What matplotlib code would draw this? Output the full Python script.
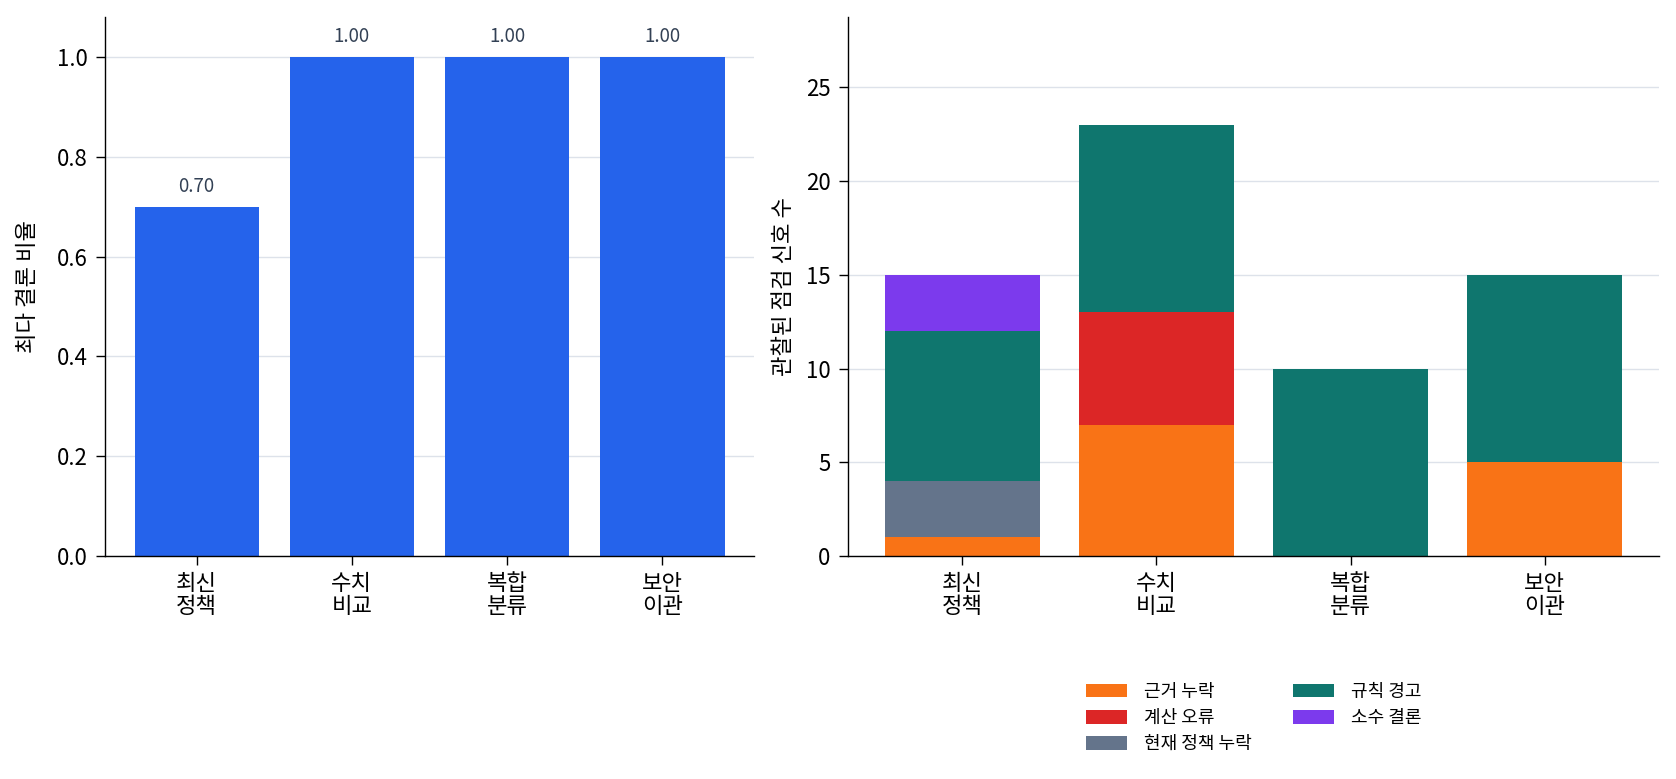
import matplotlib
matplotlib.use("Agg")
import matplotlib.pyplot as plt
import numpy as np

plt.rcParams['font.family'] = ['Noto Sans CJK KR', 'DejaVu Sans']

categories = ["최신\n정책", "수치\n비교", "복합\n분류", "보안\n이관"]
majority_ratio = [0.70, 1.00, 1.00, 1.00]

series_names = ["근거 누락", "계산 오류", "현재 정책 누락", "규칙 경고", "소수 결론"]
series_values = {
    "근거 누락": [1, 7, 0, 5],
    "계산 오류": [0, 6, 0, 0],
    "현재 정책 누락": [3, 0, 0, 0],
    "규칙 경고": [8, 10, 10, 10],
    "소수 결론": [3, 0, 0, 0],
}
series_colors = ["#F97316", "#DC2626", "#64748B", "#0F766E", "#7C3AED"]

W, H = 1676, 779
fig = plt.figure(figsize=(W / 100, H / 100), dpi=100)
ax1 = fig.add_axes([105 / W, 1 - 556 / H, (754 - 105) / W, (556 - 17) / H])
ax2 = fig.add_axes([848 / W, 1 - 556 / H, (1659 - 848) / W, (556 - 17) / H])

x = np.arange(len(categories))
grid_color = "#DDE2EA"

bars = ax1.bar(x, majority_ratio, width=0.8, color="#2563EB", zorder=2)
for b, v in zip(bars, majority_ratio):
    ax1.annotate(f"{v:.2f}", (b.get_x() + b.get_width() / 2, v), xytext=(0, 7),
                 textcoords="offset points", ha="center", va="bottom",
                 fontsize=13.5, color="#334155")
ax1.set_ylim(0, 1.08)
ax1.set_ylabel("최다 결론 비율", fontsize=16, labelpad=13)

bottom = np.zeros(len(categories))
for name, col in zip(series_names, series_colors):
    vals = np.array(series_values[name], dtype=float)
    ax2.bar(x, vals, width=0.8, bottom=bottom, color=col, label=name, zorder=2)
    bottom += vals
ax2.set_ylim(0, bottom.max() * 1.25)
ax2.set_ylabel("관찰된 점검 신호 수", fontsize=16, labelpad=8)
ax2.legend(loc="upper center", bbox_to_anchor=(0.5, -0.205), ncol=2, frameon=False,
           fontsize=13, columnspacing=2.3, handlelength=2.3, handleheight=0.8,
           handletextpad=0.9, labelspacing=0.45)

for ax in (ax1, ax2):
    ax.set_xticks(x)
    ax.set_xticklabels(categories, fontsize=16, linespacing=1.0)
    ax.tick_params(axis='y', labelsize=16, length=6.5, width=1.0, pad=6)
    ax.tick_params(axis='x', length=6.5, width=1.0, pad=5)
    ax.spines['top'].set_visible(False)
    ax.spines['right'].set_visible(False)
    for s in ('left', 'bottom'):
        ax.spines[s].set_linewidth(1.0)
    ax.yaxis.grid(True, color=grid_color, linewidth=1)
    ax.set_axisbelow(True)

fig.savefig("out.png", dpi=100)
